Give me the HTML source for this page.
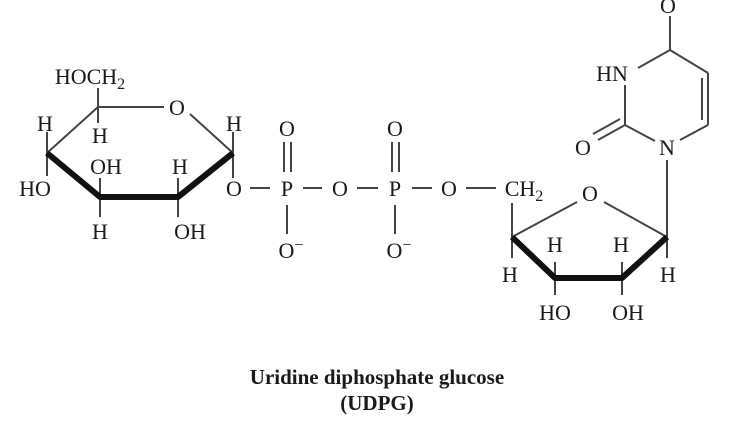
<!DOCTYPE html>
<html><head><style>
body{margin:0;background:#fff;}
svg text{font-family:"Liberation Serif",serif;fill:#1a1a1a;}
</style></head><body>
<svg width="736" height="432" viewBox="0 0 736 432" xmlns="http://www.w3.org/2000/svg">
<g stroke="#444" stroke-width="2" fill="none">
<line x1="98" y1="107" x2="164" y2="107"/>
<line x1="190" y1="114" x2="233" y2="153"/>
<line x1="98" y1="107" x2="47" y2="153"/>
<line x1="98" y1="88" x2="98" y2="123"/>
<line x1="47" y1="132" x2="47" y2="176"/>
<line x1="233" y1="132" x2="233" y2="178"/>
<line x1="100" y1="178" x2="100" y2="217"/>
<line x1="178" y1="178" x2="178" y2="217"/>
<line x1="250" y1="188" x2="270" y2="188"/>
<line x1="303" y1="188" x2="322" y2="188"/>
<line x1="357" y1="188" x2="378" y2="188"/>
<line x1="412" y1="188" x2="432" y2="188"/>
<line x1="466" y1="188" x2="496" y2="188"/>
<line x1="284" y1="142" x2="284" y2="172"/>
<line x1="291" y1="142" x2="291" y2="172"/>
<line x1="392" y1="142" x2="392" y2="172"/>
<line x1="399" y1="142" x2="399" y2="172"/>
<line x1="287" y1="205" x2="287" y2="234"/>
<line x1="395" y1="205" x2="395" y2="234"/>
<line x1="512" y1="203" x2="512" y2="258"/>
<line x1="512" y1="237" x2="577" y2="202"/>
<line x1="604" y1="202" x2="667" y2="237"/>
<line x1="667" y1="160" x2="667" y2="258"/>
<line x1="555" y1="262" x2="555" y2="295"/>
<line x1="622" y1="262" x2="622" y2="295"/>
<line x1="670" y1="16" x2="670" y2="50"/>
<line x1="670" y1="50" x2="708" y2="73"/>
<line x1="670" y1="50" x2="638" y2="68"/>
<line x1="708" y1="73" x2="708" y2="125"/>
<line x1="702" y1="78" x2="702" y2="120"/>
<line x1="708" y1="125" x2="680" y2="140"/>
<line x1="625" y1="125" x2="655" y2="141"/>
<line x1="625" y1="125" x2="625" y2="85"/>
<line x1="625" y1="125" x2="598" y2="140"/>
<line x1="620" y1="119" x2="593" y2="134"/>
</g>
<g stroke="#111" stroke-width="6" fill="none" stroke-linejoin="round">
<polyline points="47,153 100,197 178,197 233,153"/>
<polyline points="512,237 555,278 622,278 667,237"/>
</g>
<g font-size="22" text-anchor="middle">
<text x="90" y="84">HOCH<tspan font-size="16" dy="5">2</tspan></text>
<text x="177" y="115">O</text>
<text x="45" y="131">H</text>
<text x="100" y="143">H</text>
<text x="234" y="131">H</text>
<text x="35" y="196">HO</text>
<text x="106" y="174">OH</text>
<text x="180" y="174">H</text>
<text x="100" y="239">H</text>
<text x="190" y="239">OH</text>
<text x="234" y="196">O</text>
<text x="287" y="136">O</text>
<text x="287" y="196">P</text>
<text x="340" y="196">O</text>
<text x="395" y="136">O</text>
<text x="395" y="196">P</text>
<text x="449" y="196">O</text>
<text x="291" y="258">O<tspan font-size="16" dy="-8">−</tspan></text>
<text x="399" y="258">O<tspan font-size="16" dy="-8">−</tspan></text>
<text x="524" y="196">CH<tspan font-size="16" dy="5">2</tspan></text>
<text x="590" y="201">O</text>
<text x="555" y="252">H</text>
<text x="621" y="252">H</text>
<text x="510" y="282">H</text>
<text x="668" y="282">H</text>
<text x="555" y="320">HO</text>
<text x="628" y="320">OH</text>
<text x="668" y="13">O</text>
<text x="612" y="81">HN</text>
<text x="667" y="155">N</text>
<text x="583" y="155">O</text>
</g>
<g font-size="21" font-weight="bold" text-anchor="middle">
<text x="377" y="384">Uridine diphosphate glucose</text>
<text x="377" y="410">(UDPG)</text>
</g>
</svg>
</body></html>
